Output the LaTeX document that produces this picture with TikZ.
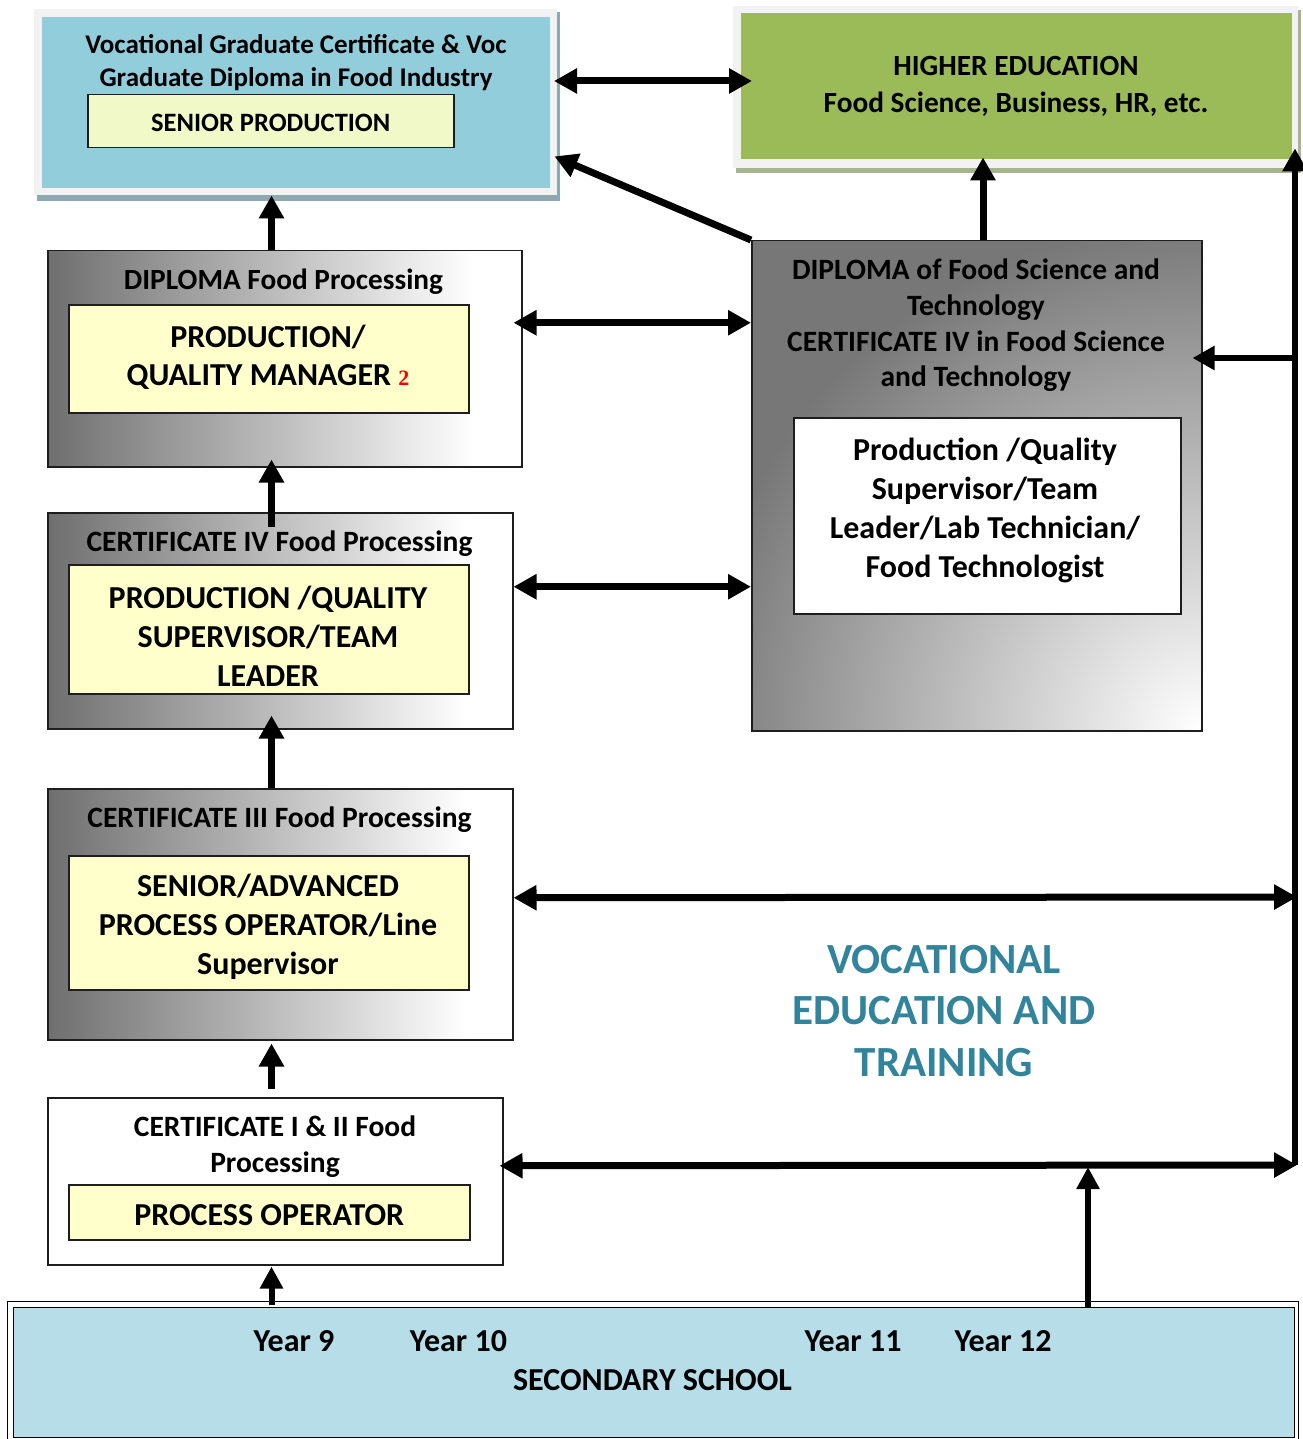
\documentclass[tikz,border=0pt]{standalone}
\usepackage{fontspec}
\setmainfont{Carlito}
\newfontfamily\fnserif{Liberation Serif}
\usetikzlibrary{arrows.meta,calc}
\definecolor{vocblue}{HTML}{92CDDC}
\definecolor{frameg}{HTML}{F2F2F2}
\definecolor{blueshadow}{HTML}{8FA9B2}
\definecolor{greenshadow}{HTML}{A8B48E}
\definecolor{higreen}{HTML}{9BBB59}
\definecolor{paleyellow}{HTML}{FFFFCC}
\definecolor{limeyellow}{HTML}{F2F9C9}
\definecolor{schoolblue}{HTML}{B7DDE8}
\definecolor{vettext}{HTML}{31849B}
\definecolor{dkgray}{HTML}{6F6F6F}
\definecolor{dkgrayb}{HTML}{777777}
\definecolor{boxline}{HTML}{1E1E1E}
\pgfdeclarehorizontalshading{leftgrad}{100bp}{color(0bp)=(dkgray); color(25bp)=(dkgray); color(70bp)=(white); color(100bp)=(white)}
\tikzset{
  x=1pt, y=-1pt,
  bx/.style={draw=boxline, line width=1.5pt, inner sep=0pt, anchor=north west},
  gradbox/.style={bx, shading=leftgrad, shade},
  ylbox/.style={bx, fill=paleyellow},
  txt/.style={align=center, inner sep=0pt, font=\bfseries},
  arr/.style={line width=7pt, -{Triangle[length=23pt,width=24pt]}},
  darr/.style={line width=7pt, {Triangle[length=23pt,width=24pt]}-{Triangle[length=23pt,width=24pt]}},
  thinarr/.style={line width=6pt, -{Triangle[length=22pt,width=22pt]}},
}
\begin{document}
\begin{tikzpicture}
\useasboundingbox (0,0) rectangle (1302,1439);
\fill[white] (0,0) rectangle (1302,1439);

% ---------- top left: vocational graduate ----------
\fill[blueshadow] (37,12) rectangle (560,201);
\node[anchor=north west, fill=frameg, minimum width=523pt, minimum height=186pt, inner sep=0pt] (voc) at (34,9) {};
\fill[vocblue] (42,17) rectangle (550,188);
\node[txt, font=\bfseries\fontsize{27}{33}\selectfont] (voct) at (296,62.5) {Vocational Graduate Certificate \& Voc\\Graduate Diploma in Food Industry};
\node[bx, fill=limeyellow, minimum width=366pt, minimum height=53pt] (senior) at (87,94) {};
\node[txt, font=\bfseries\fontsize{26.5}{30}\selectfont] at ($(senior.center)+(0,1.5)$) {SENIOR PRODUCTION};

% ---------- top right: higher education ----------
\fill[greenshadow] (736,10) rectangle (1301,173);
\node[anchor=north west, fill=frameg, minimum width=565pt, minimum height=162pt, inner sep=0pt] (he) at (733,6) {};
\fill[higreen] (741,13) rectangle (1292,159);
\node[txt, font=\bfseries\fontsize{29.3}{37}\selectfont] (het) at (1016,86) {HIGHER EDUCATION\\Food Science, Business, HR, etc.};

% ---------- right: diploma of food science ----------
\node[bx, fill=dkgrayb, minimum width=450pt, minimum height=490pt,
  path picture={\shade[inner color=white, outer color=dkgrayb] (path picture bounding box.south east) circle (510pt);}] (dfs) at (751,240) {};
\node[txt, font=\bfseries\fontsize{29.5}{35.7}\selectfont] at (976,325.5) {DIPLOMA of Food Science and\\Technology\\CERTIFICATE IV in Food Science\\and Technology};
\node[bx, fill=white, minimum width=387pt, minimum height=196pt] (dfsin) at (793,417) {};
\node[txt, font=\bfseries\fontsize{32}{38.7}\selectfont] at (985,510.5) {Production /Quality\\Supervisor/Team\\Leader/Lab Technician/\\Food Technologist};

% ---------- left column ----------
\node[gradbox, minimum width=474pt, minimum height=216pt] (dip) at (47,250) {};
\node[txt, font=\bfseries\fontsize{29.3}{32}\selectfont] at (283.5,282) {DIPLOMA Food Processing};
\node[ylbox, minimum width=400pt, minimum height=108pt] (dipin) at (68,304) {};
\node[txt, font=\bfseries\fontsize{32}{38.5}\selectfont] at (268,357.5) {PRODUCTION/\\QUALITY MANAGER {\fnserif\fontsize{22}{22}\selectfont\color{red}2}};

\node[gradbox, minimum width=465pt, minimum height=216pt] (c4) at (47,512) {};
\node[txt, font=\bfseries\fontsize{29.5}{32}\selectfont] at (279.5,544) {CERTIFICATE IV Food Processing};
\node[ylbox, minimum width=400pt, minimum height=129pt] (c4in) at (68,564) {};
\node[txt, font=\bfseries\fontsize{32}{39}\selectfont] at (268,636) {PRODUCTION /QUALITY\\SUPERVISOR/TEAM\\LEADER};

\node[gradbox, minimum width=465pt, minimum height=251pt] (c3) at (47,788) {};
\node[txt, font=\bfseries\fontsize{29.5}{32}\selectfont] at (279.5,820) {CERTIFICATE III Food Processing};
\node[ylbox, minimum width=400pt, minimum height=134pt] (c3in) at (68,855) {};
\node[txt, font=\bfseries\fontsize{32}{39}\selectfont] at (268,927) {SENIOR/ADVANCED\\PROCESS OPERATOR/Line\\Supervisor};

\node[bx, fill=white, minimum width=455pt, minimum height=167pt] (c12) at (47,1097) {};
\node[txt, font=\bfseries\fontsize{29.5}{36.5}\selectfont] at (275,1146.5) {CERTIFICATE I \& II Food\\Processing};
\node[ylbox, minimum width=401pt, minimum height=55pt] (c12in) at (68,1184) {};
\node[txt, font=\bfseries\fontsize{32}{32}\selectfont] at ($(c12in.center)+(0,2.5)$) {PROCESS OPERATOR};

% ---------- VET label ----------
\node[txt, text=vettext, font=\bfseries\fontsize{43}{51.5}\selectfont] at (944,1011) {VOCATIONAL\\EDUCATION AND\\TRAINING};

% ---------- secondary school ----------
\node[anchor=north west, draw=black, line width=1.2pt, fill=white, minimum width=1291pt, minimum height=145pt, inner sep=0pt] (school) at (7,1301) {};
\node[anchor=north west, draw=black, line width=1.2pt, fill=schoolblue, minimum width=1281pt, minimum height=130pt, inner sep=0pt] (schoolin) at (12.5,1307) {};
\node[txt, font=\bfseries\fontsize{32}{32}\selectfont] at (294,1341.5) {Year 9};
\node[txt, font=\bfseries\fontsize{32}{32}\selectfont] at (458.5,1341.5) {Year 10};
\node[txt, font=\bfseries\fontsize{32}{32}\selectfont] at (853,1341.5) {Year 11};
\node[txt, font=\bfseries\fontsize{32}{32}\selectfont] at (1003,1341.5) {Year 12};
\node[txt, font=\bfseries\fontsize{32}{32}\selectfont] at (652.5,1380.5) {SECONDARY SCHOOL};

% ---------- helper coordinates ----------
\coordinate (colx) at (271.5,0);
\coordinate (hex) at (983,0);
\coordinate (railx) at (1295,0);
\coordinate (y12x) at (1088,0);
\coordinate (top1) at (554,81);
\coordinate (top2) at (752,81);
\coordinate (r358) at (1295,358);
\coordinate (r897) at (1297,897);
\coordinate (r1165) at (1297,1165);

% ---------- connectors ----------
\draw[darr] (top1) -- (top2);
\draw[arr] (dfs.north west) -- ($(voc.south east)+(-3,-39)$);
\draw[arr] (hex |- dfs.north) -- ($(hex |- he.south)+(0,-11)$);
\draw[arr] (colx |- dip.north) -- (colx |- voc.south);
\draw[arr] ($(colx |- c4.north)+(0,15)$) -- ($(colx |- dip.south)+(0,-8)$);
\draw[arr] (colx |- c3.north) -- ($(colx |- c4.south)+(0,-14)$);
\draw[arr] ($(colx |- c12.north)+(0,-8)$) -- ($(colx |- c3.south)+(0,3)$);
\draw[thinarr] ($(colx |- school.north)+(0,4)$) -- ($(colx |- c12.south)+(0,1)$);
\draw[darr] ($(dip.east)+(-9,-36)$) -- ($(dfs.west)+(0,-163)$);
\draw[darr] ($(c4.east)+(0,-34)$) -- ($(dfs.west)+(0,101)$);
\draw[darr] ($(c3.east)+(0,-16.5)$) -- (r897);
\draw[darr] ($(c12.east)+(-4,-15.5)$) -- (r1165);
\draw[line width=6pt, -{Triangle[length=23pt,width=24pt]}] (railx |- r1165) -- ($(railx |- he.south)+(0,-20)$);
\draw[line width=6pt, -{Triangle[length=22pt,width=23pt]}] (r358) -- ($(dfs.east |- r358)+(-10,0)$);
\draw[thinarr] ($(y12x |- school.north)+(0,7)$) -- ($(y12x |- r1165)+(0,2)$);
\end{tikzpicture}
\end{document}
